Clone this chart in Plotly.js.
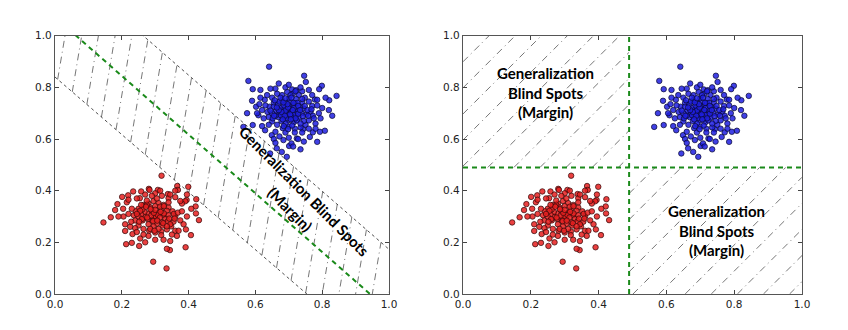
<!DOCTYPE html>
<html>
<head>
<meta charset="utf-8">
<script src="https://cdn.plot.ly/plotly-3.0.1.min.js"></script>
<style>
  body { margin: 0; background: #fff; }
  #chart { width: 848px; height: 330px; }
</style>
</head>
<body>
<div id="chart"></div>
<script>
// blue cluster (upper right)
const blueX = [
  0.641,0.746,0.751,0.579,0.592,0.799,0.791,0.843,0.821,0.820,
  0.590,0.602,0.609,0.592,0.564,0.629,0.649,0.684,0.724,0.763,
  0.785,0.808,0.793,0.664,0.679,0.701,0.644,0.694,0.778,0.785,
  0.710,0.722,0.740,0.772,0.743,0.728,0.708,0.713,
  0.650,0.665,0.680,0.695,0.712,0.730,0.748,0.760,0.770,0.765,
  0.772,0.760,0.750,0.735,0.718,0.700,0.682,0.665,0.650,0.640,
  0.636,0.642,0.655,0.628,0.620,0.625,0.660,0.690,0.740,0.780,
  0.790,0.785,0.770,0.690,0.660,0.635,0.612,0.672,0.752,0.745,
  0.672,0.680,0.688,0.695,0.700,0.705,0.710,0.718,0.722,0.712,
  0.698,0.685,0.675,0.690,0.705,0.720,0.732,0.738,0.730,0.715,
  0.690,0.678,0.668,0.662,0.668,0.680,0.700,0.722,0.740,0.748,
  0.692,0.702,0.708,0.684,0.696,0.714,0.726,0.676,0.694,0.706,
  0.716,0.700,0.686,0.724,0.742,0.756,0.650,0.655,0.660,0.745,
  0.710,0.685,0.735,0.726,0.672,0.658,0.705,0.720,0.675,0.740,
  0.758,0.768,0.652,0.645,0.698,0.718,0.760,0.775,0.640,0.630,
  0.615,0.605,0.800,0.795,0.780,0.735,0.760,0.700,0.670,0.645,
  0.615,0.620,0.655,0.700,0.745,0.810,0.830,0.735,0.660,0.575,
  0.690,0.698,0.712,0.704,0.688,0.678,0.696,0.714,0.728,0.720,
  0.706,0.682,0.670,0.684,0.728,0.734,0.708,0.690,0.664,0.656
];
const blueY = [
  0.880,0.845,0.821,0.825,0.793,0.806,0.793,0.767,0.750,0.712,
  0.748,0.725,0.692,0.654,0.647,0.634,0.615,0.596,0.602,0.608,
  0.589,0.632,0.628,0.564,0.550,0.573,0.544,0.531,0.753,0.752,
  0.792,0.789,0.785,0.626,0.638,0.600,0.583,0.571,
  0.760,0.775,0.770,0.782,0.775,0.770,0.760,0.745,0.728,0.705,
  0.690,0.672,0.655,0.645,0.640,0.648,0.642,0.655,0.668,0.685,
  0.705,0.725,0.740,0.752,0.712,0.680,0.628,0.625,0.625,0.660,
  0.700,0.730,0.770,0.800,0.795,0.770,0.735,0.610,0.695,0.718,
  0.700,0.712,0.722,0.705,0.690,0.715,0.730,0.705,0.690,0.678,
  0.672,0.685,0.720,0.740,0.745,0.738,0.725,0.700,0.682,0.665,
  0.660,0.670,0.685,0.710,0.735,0.750,0.758,0.755,0.742,0.728,
  0.696,0.700,0.708,0.704,0.716,0.694,0.712,0.692,0.682,0.688,
  0.720,0.728,0.730,0.672,0.688,0.712,0.700,0.725,0.690,0.670,
  0.652,0.650,0.660,0.740,0.745,0.750,0.770,0.785,0.760,0.755,
  0.690,0.715,0.680,0.710,0.638,0.625,0.640,0.680,0.655,0.730,
  0.760,0.700,0.720,0.680,0.640,0.800,0.790,0.810,0.815,0.795,
  0.790,0.650,0.600,0.605,0.590,0.760,0.690,0.560,0.585,0.700,
  0.710,0.722,0.712,0.695,0.690,0.705,0.735,0.740,0.698,0.680,
  0.676,0.676,0.712,0.742,0.728,0.712,0.760,0.758,0.722,0.690
];

// red cluster (lower left)
const redX = [
  0.319,0.145,0.167,0.210,0.213,0.230,0.252,0.294,0.334,0.344,
  0.391,0.407,0.431,0.422,0.394,0.399,0.366,0.201,0.187,0.180,
  0.234,0.219,0.204,0.254,0.258,0.281,0.368,0.390,0.423,0.421,
  0.283,0.308,0.338,0.340,
  0.250,0.265,0.280,0.295,0.310,0.325,0.340,0.352,0.360,0.355,
  0.348,0.335,0.318,0.300,0.282,0.265,0.250,0.240,0.236,0.242,
  0.270,0.280,0.290,0.300,0.305,0.310,0.318,0.325,0.330,0.320,
  0.305,0.290,0.278,0.268,0.285,0.300,0.315,0.335,0.340,0.338,
  0.322,0.295,0.280,0.262,0.258,0.262,0.275,0.296,0.302,0.308,
  0.288,0.296,0.314,0.326,0.276,0.294,0.306,0.316,0.300,0.286,
  0.324,0.342,0.356,0.250,0.255,0.260,0.345,0.310,0.285,0.335,
  0.326,0.272,0.258,0.305,0.320,0.275,0.340,0.358,0.368,0.252,
  0.245,0.298,0.318,0.360,0.375,0.240,0.230,0.215,0.205,0.380,
  0.385,0.370,0.345,0.360,0.300,0.270,0.245,0.220,0.225,0.255,
  0.300,0.345,0.380,0.395,0.335,0.270,0.190,0.228,0.232,0.365,
  0.280,0.325,0.392,0.408,0.220,0.360,0.290,0.315,0.265,0.350,
  0.375,0.395,0.245,0.210
];
const redY = [
  0.458,0.277,0.297,0.244,0.193,0.198,0.186,0.125,0.099,0.170,
  0.181,0.228,0.286,0.312,0.364,0.415,0.418,0.376,0.348,0.325,
  0.397,0.382,0.330,0.371,0.397,0.407,0.403,0.359,0.367,0.339,
  0.403,0.403,0.387,0.371,
  0.330,0.345,0.350,0.360,0.352,0.345,0.335,0.320,0.300,0.280,
  0.262,0.250,0.242,0.238,0.245,0.252,0.265,0.285,0.305,0.320,
  0.300,0.312,0.322,0.305,0.290,0.315,0.328,0.305,0.290,0.278,
  0.272,0.285,0.290,0.318,0.335,0.340,0.338,0.322,0.305,0.282,
  0.265,0.262,0.270,0.285,0.308,0.328,0.345,0.296,0.300,0.306,
  0.304,0.314,0.296,0.312,0.296,0.282,0.284,0.318,0.326,0.328,
  0.274,0.292,0.310,0.300,0.322,0.290,0.270,0.252,0.252,0.262,
  0.340,0.338,0.345,0.370,0.380,0.362,0.355,0.292,0.315,0.280,
  0.310,0.245,0.228,0.245,0.285,0.255,0.330,0.355,0.300,0.320,
  0.270,0.245,0.385,0.375,0.390,0.385,0.370,0.365,0.260,0.215,
  0.210,0.205,0.350,0.300,0.175,0.200,0.300,0.280,0.232,0.225,
  0.225,0.210,0.250,0.330,0.310,0.400,0.380,0.400,0.230,0.230,
  0.360,0.385,0.240,0.270
];

// left panel: margin lines as [intercept, slope]
const lowerEdge = [0.84, -1.114];
const upperEdge = [1.2966, -1.1236];
const splitLine = [1.0716, -1.1364];

// right panel: split position on both axes
const splitX = 0.49;
const splitY = 0.49;

const tickVals = [0, 0.2, 0.4, 0.6, 0.8, 1.0];
const marginLabel = "Generalization Blind Spots";
const marginSub = "(Margin)";
const quadLabel = "Generalization<br>Blind Spots<br>(Margin)";

const lineY = (ln, x) => ln[0] + ln[1] * x;

// hatch lines x = s + k*y, cut at the two margin edges
const bandHatch = function (k, step) {
  let xs = [], ys = [];
  for (let s = -0.3; s <= 1.2; s += step) {
    [lowerEdge, upperEdge].forEach((ln) => {
      const y = (ln[0] + ln[1] * s) / (1 - ln[1] * k);
      xs.push(s + k * y);
      ys.push(y);
    });
    xs.push(null);
    ys.push(null);
  }
  return { xs, ys };
};

// hatch lines x = s + k*y, cut to a rectangle
const rectHatch = function (x0, x1, y0, y1, k, step, xs, ys) {
  for (let s = x0 - k * y1; s <= x1; s += step) {
    const ya = Math.max(y0, (x0 - s) / k);
    const yb = Math.min(y1, (x1 - s) / k);
    if (yb <= ya) continue;
    xs.push(s + k * ya, s + k * yb, null);
    ys.push(ya, yb, null);
  }
};

const hatchStyle = { color: "#666", width: 0.9, dash: "7px,4px,1px,4px" };
const green = "#1a8a1a";

const left = bandHatch(0.13, 0.05);
let rx = [], ry = [];
rectHatch(0, splitX, splitY, 1, 0.7625, 0.077, rx, ry);
rectHatch(splitX, 1, 0, splitY, 0.7625, 0.077, rx, ry);

const blueMarker = {
  size: 5.5,
  color: "rgba(30,30,225,0.85)",
  line: { color: "rgba(10,10,50,0.9)", width: 0.8 },
};
const redMarker = {
  size: 5.5,
  color: "rgba(230,30,30,0.85)",
  line: { color: "rgba(50,10,10,0.9)", width: 0.8 },
};

const data = [
  { x: left.xs, y: left.ys, mode: "lines", line: hatchStyle, xaxis: "x", yaxis: "y" },
  { x: [0, 1], y: [lineY(lowerEdge, 0), lineY(lowerEdge, 1)], mode: "lines",
    line: { color: "#222", width: 0.8, dash: "dot" }, xaxis: "x", yaxis: "y" },
  { x: [0, 1], y: [lineY(upperEdge, 0), lineY(upperEdge, 1)], mode: "lines",
    line: { color: "#222", width: 0.8, dash: "dot" }, xaxis: "x", yaxis: "y" },
  { x: [0, 1], y: [lineY(splitLine, 0), lineY(splitLine, 1)], mode: "lines",
    line: { color: green, width: 2, dash: "5px,4px" }, xaxis: "x", yaxis: "y" },
  { x: blueX, y: blueY, mode: "markers", marker: blueMarker, xaxis: "x", yaxis: "y" },
  { x: redX, y: redY, mode: "markers", marker: redMarker, xaxis: "x", yaxis: "y" },

  { x: rx, y: ry, mode: "lines", line: hatchStyle, xaxis: "x2", yaxis: "y2" },
  { x: [splitX, splitX], y: [0, 1], mode: "lines",
    line: { color: green, width: 2, dash: "5px,4px" }, xaxis: "x2", yaxis: "y2" },
  { x: [0, 1], y: [splitY, splitY], mode: "lines",
    line: { color: green, width: 2, dash: "5px,4px" }, xaxis: "x2", yaxis: "y2" },
  { x: blueX, y: blueY, mode: "markers", marker: blueMarker, xaxis: "x2", yaxis: "y2" },
  { x: redX, y: redY, mode: "markers", marker: redMarker, xaxis: "x2", yaxis: "y2" },
];

const axisBase = {
  range: [0, 1],
  tickvals: tickVals,
  tickformat: ".1f",
  ticks: "inside",
  ticklen: 4,
  tickcolor: "#444",
  showline: true,
  mirror: "ticks",
  linecolor: "#555",
  linewidth: 1.2,
  showgrid: false,
  zeroline: false,
  automargin: false,
  fixedrange: true,
  tickfont: { family: "DejaVu Sans", size: 10.5, color: "#222" },
};

const textFont = { family: "Lato, sans-serif", size: 15, color: "#000", weight: "bold" };

const layout = {
  width: 848,
  height: 330,
  margin: { l: 0, r: 0, t: 0, b: 0 },
  paper_bgcolor: "#fff",
  plot_bgcolor: "#fff",
  showlegend: false,
  xaxis: { ...axisBase, domain: [55 / 848, 389 / 848], anchor: "y" },
  yaxis: { ...axisBase, domain: [1 - 294 / 330, 1 - 35.7 / 330], anchor: "x" },
  xaxis2: { ...axisBase, domain: [463 / 848, 802 / 848], anchor: "y2" },
  yaxis2: { ...axisBase, domain: [1 - 294 / 330, 1 - 35.7 / 330], anchor: "x2" },
  annotations: [
    { text: marginLabel, x: 0.746, y: 0.398, xref: "x", yref: "y", showarrow: false,
      textangle: 45, font: textFont },
    { text: marginSub, x: 0.704, y: 0.331, xref: "x", yref: "y", showarrow: false,
      textangle: 45, font: textFont },
    { text: quadLabel, x: 0.243, y: 0.78, xref: "x2", yref: "y2", showarrow: false,
      font: textFont },
    { text: quadLabel, x: 0.748, y: 0.244, xref: "x2", yref: "y2", showarrow: false,
      font: textFont },
  ],
};

Plotly.newPlot("chart", data, layout, { displayModeBar: false, staticPlot: true });
</script>
</body>
</html>
